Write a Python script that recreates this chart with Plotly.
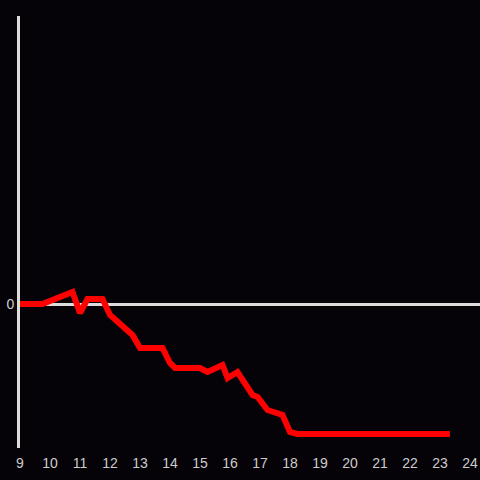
import plotly.graph_objects as go

# hours of the day and cumulative value
hours = [9.0, 9.75, 10.75, 11.0, 11.25, 11.75, 12.0, 12.33, 12.75, 13.0, 13.75, 14.0,
         14.17, 15.0, 15.25, 15.75, 15.92, 16.25, 16.75, 16.92, 17.25, 17.75, 18.0,
         18.25, 23.33]
values = [0, 0, 12, -9, 5, 5, -11, -19, -31, -44, -44, -59,
          -64, -64, -68, -61, -74, -68, -91, -93, -106, -111, -128,
          -130, -130]
x_ticks = list(range(9, 25))
y_ticks = [0]

BG = "#050308"
AXIS = "#dcdcdc"

fig = go.Figure()
fig.add_trace(
    go.Scatter(
        x=hours,
        y=values,
        mode="lines",
        line={"color": "#ff0000", "width": 6},
        showlegend=False,
        hoverinfo="skip",
    )
)

fig.update_layout(
    width=480,
    height=480,
    paper_bgcolor=BG,
    plot_bgcolor=BG,
    margin={"l": 20, "r": 0, "t": 16, "b": 32},
    font={"family": "Liberation Sans, Arial, sans-serif", "size": 14, "color": "#cccccc"},
)
fig.update_xaxes(
    range=[9, 24.333],
    tickvals=x_ticks,
    showgrid=False,
    zeroline=False,
    showline=False,
    ticks="outside",
    ticklen=2,
    tickcolor=BG,
)
fig.update_yaxes(
    range=[-144, 288],
    tickvals=y_ticks,
    showgrid=False,
    zeroline=True,
    zerolinecolor=AXIS,
    zerolinewidth=3,
    showline=True,
    linecolor=AXIS,
    linewidth=3,
    ticks="",
)

fig.write_html(
    "out.html",
    config={"displayModeBar": False},
    post_script="document.body.style.margin='0';document.body.style.overflow='hidden';",
)
